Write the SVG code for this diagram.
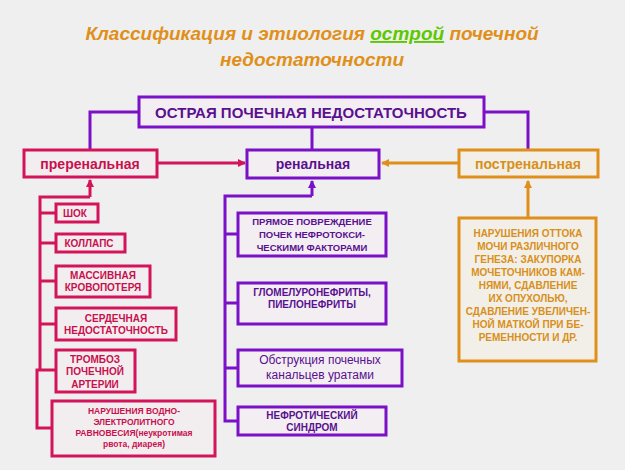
<svg xmlns="http://www.w3.org/2000/svg" width="625" height="470" viewBox="0 0 625 470">
<style>
text{font-family:"Liberation Sans",Arial,sans-serif;font-weight:bold;text-anchor:middle}
.t{font-size:19px;font-style:italic;fill:#e0901a}
.p rect{stroke:#d4145a;stroke-width:3;fill:#f2eef0}
.v rect{stroke:#7a10c8;stroke-width:3;fill:#f2eef2}
.o rect{stroke:#e0901a;stroke-width:3;fill:#f2efe8}
.p text{fill:#c8104e;font-size:10px}
.v text{fill:#5a1090;font-size:10px}
.o text{fill:#d8901a;font-size:10px}
.lp{stroke:#d4145a;stroke-width:3;fill:none}
.lv{stroke:#7a10c8;stroke-width:3;fill:none}
.lo{stroke:#e0901a;stroke-width:3;fill:none}
</style>
<defs>
<marker id="ap" markerWidth="8" markerHeight="8" refX="7" refY="4" orient="auto" markerUnits="userSpaceOnUse"><path d="M0,0L8,4L0,8z" fill="#d4145a"/></marker>
<marker id="av" markerWidth="8" markerHeight="8" refX="7" refY="4" orient="auto" markerUnits="userSpaceOnUse"><path d="M0,0L8,4L0,8z" fill="#7a10c8"/></marker>
<marker id="ao" markerWidth="8" markerHeight="8" refX="7" refY="4" orient="auto" markerUnits="userSpaceOnUse"><path d="M0,0L8,4L0,8z" fill="#e0901a"/></marker>
</defs>
<rect width="625" height="470" fill="#efefef"/>
<g id="title">
<text class="t" x="312" y="40">Классификация и этиология <tspan fill="#5cc800" text-decoration="underline">острой</tspan> почечной</text>
<text class="t" x="312" y="66">недостаточности</text>
</g>
<g id="connectors">
<path class="lv" d="M139,112H90V150M484,112H528V150M312,127V150"/>
<path class="lp" d="M157,163H245" marker-end="url(#ap)"/>
<path class="lo" d="M459,163H382" marker-end="url(#ao)"/>
<path class="lp" d="M90,197V180" marker-end="url(#ap)"/>
<path class="lp" d="M90,197H40V370H37V428H52M40,213H56M40,243H56M40,281H56M40,324H56M40,370H56"/>
<path class="lv" d="M312,196V181" marker-end="url(#av)"/>
<path class="lv" d="M312,196H225V421H238M225,234H238M225,303H238M225,368H238"/>
<path class="lo" d="M528,218V181" marker-end="url(#ao)"/>
</g>
<g id="main" class="v"><rect x="139" y="97" width="345" height="30"/><text x="311" y="118" style="font-size:15px;fill:#5a1090">ОСТРАЯ ПОЧЕЧНАЯ НЕДОСТАТОЧНОСТЬ</text></g>
<g id="prerenal" class="p"><rect x="24" y="150" width="133" height="27"/><text x="90" y="169" style="font-size:14px">преренальная</text></g>
<g id="renal" class="v"><rect x="247" y="150" width="132" height="28"/><text x="313" y="169" style="font-size:14px">ренальная</text></g>
<g id="postrenal" class="o"><rect x="459" y="150" width="139" height="27"/><text x="528" y="169" style="font-size:14px">постренальная</text></g>
<g id="shock" class="p"><rect x="56" y="204" width="42" height="18"/><text x="75" y="217">ШОК</text></g>
<g id="collapse" class="p"><rect x="56" y="234" width="69" height="18"/><text x="89" y="247">КОЛЛАПС</text></g>
<g id="bloodloss" class="p"><rect x="56" y="266" width="94" height="31"/><text x="103" y="279">МАССИВНАЯ</text><text x="103" y="291">КРОВОПОТЕРЯ</text></g>
<g id="heart" class="p"><rect x="56" y="308" width="120" height="32"/><text x="116" y="322">СЕРДЕЧНАЯ</text><text x="116" y="334">НЕДОСТАТОЧНОСТЬ</text></g>
<g id="thrombosis" class="p"><rect x="56" y="350" width="79" height="42"/><text x="95" y="363">ТРОМБОЗ</text><text x="95" y="375">ПОЧЕЧНОЙ</text><text x="95" y="388">АРТЕРИИ</text></g>
<g id="water" class="p"><rect x="52" y="401" width="163" height="55"/><text x="134" y="414" style="font-size:8.5px">НАРУШЕНИЯ ВОДНО-</text><text x="134" y="425" style="font-size:8.5px">ЭЛЕКТРОЛИТНОГО</text><text x="134" y="436" style="font-size:8.5px">РАВНОВЕСИЯ(неукротимая</text><text x="134" y="447" style="font-size:8.5px">рвота, диарея)</text></g>
<g id="nephrotox" class="v"><rect x="238" y="213" width="148" height="43"/><text x="312" y="225" style="font-size:9.5px">ПРЯМОЕ ПОВРЕЖДЕНИЕ</text><text x="312" y="238" style="font-size:9.5px">ПОЧЕК НЕФРОТОКСИ-</text><text x="312" y="251" style="font-size:9.5px">ЧЕСКИМИ ФАКТОРАМИ</text></g>
<g id="glomerulo" class="v"><rect x="238" y="283" width="148" height="41"/><text x="312" y="296">ГЛОМЕЛУРОНЕФРИТЫ,</text><text x="312" y="308">ПИЕЛОНЕФРИТЫ</text></g>
<g id="obstruction" class="v"><rect x="238" y="350" width="164" height="36"/><text x="320" y="364" style="font-size:12px;font-weight:normal">Обструкция почечных</text><text x="320" y="379" style="font-size:12px;font-weight:normal">канальцев  уратами</text></g>
<g id="nephrotic" class="v"><rect x="238" y="407" width="148" height="28"/><text x="312" y="419">НЕФРОТИЧЕСКИЙ</text><text x="312" y="431">СИНДРОМ</text></g>
<g id="outflow" class="o"><rect x="459" y="218" width="137" height="143"/>
<text x="528" y="237">НАРУШЕНИЯ ОТТОКА</text><text x="528" y="250">МОЧИ РАЗЛИЧНОГО</text><text x="528" y="263">ГЕНЕЗА: ЗАКУПОРКА</text><text x="528" y="276">МОЧЕТОЧНИКОВ КАМ-</text><text x="528" y="289">НЯМИ, СДАВЛЕНИЕ</text><text x="528" y="302">ИХ ОПУХОЛЬЮ,</text><text x="528" y="315">СДАВЛЕНИЕ УВЕЛИЧЕН-</text><text x="528" y="328">НОЙ МАТКОЙ ПРИ БЕ-</text><text x="528" y="341">РЕМЕННОСТИ И ДР.</text></g>
</svg>
